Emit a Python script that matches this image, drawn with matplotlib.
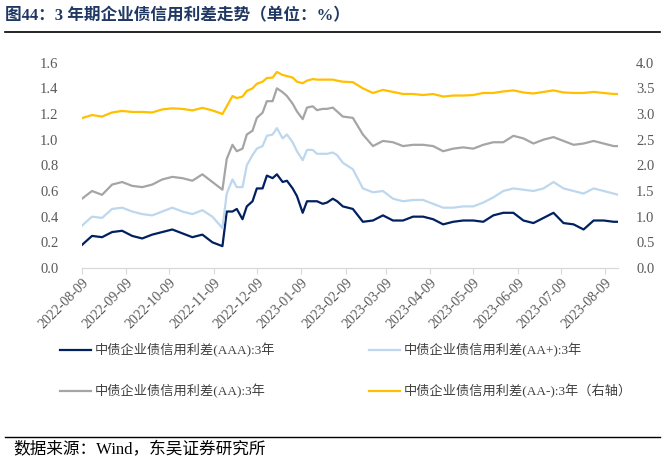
import matplotlib
matplotlib.use("Agg")
import matplotlib.pyplot as plt
import matplotlib.dates as mdates
import pandas as pd

plt.rcParams["font.family"] = ["Liberation Serif", "Noto Sans CJK SC", "DejaVu Sans"]

DATES = [
    "2022-08-09", "2022-08-16", "2022-08-23", "2022-08-30", "2022-09-06", "2022-09-13",
    "2022-09-20", "2022-09-27", "2022-10-04", "2022-10-11", "2022-10-18", "2022-10-25",
    "2022-11-01", "2022-11-08",
    "2022-11-15", "2022-11-18", "2022-11-22", "2022-11-25", "2022-11-29", "2022-12-02",
    "2022-12-06", "2022-12-09", "2022-12-13", "2022-12-16", "2022-12-20", "2022-12-23",
    "2022-12-27", "2022-12-30", "2023-01-03", "2023-01-06", "2023-01-10", "2023-01-13",
    "2023-01-17", "2023-01-20", "2023-01-24", "2023-01-27", "2023-01-31", "2023-02-03",
    "2023-02-07",
    "2023-02-14", "2023-02-21", "2023-02-28", "2023-03-07", "2023-03-14", "2023-03-21",
    "2023-03-28", "2023-04-04", "2023-04-11", "2023-04-18", "2023-04-25", "2023-05-02",
    "2023-05-09", "2023-05-16",
    "2023-05-23", "2023-05-30", "2023-06-06", "2023-06-13", "2023-06-20", "2023-06-27",
    "2023-07-04", "2023-07-11", "2023-07-18", "2023-07-25", "2023-08-01", "2023-08-08",
    "2023-08-15", "2023-08-18",
]

AAA = [
    0.18, 0.25, 0.24, 0.28, 0.29, 0.25, 0.23, 0.26, 0.28, 0.30, 0.27, 0.24, 0.26, 0.20,
    0.17, 0.44, 0.44, 0.46, 0.38, 0.48, 0.52, 0.62, 0.62, 0.72, 0.70, 0.73, 0.67, 0.68,
    0.62, 0.56, 0.43, 0.52, 0.52, 0.52, 0.50, 0.51, 0.54, 0.52, 0.48,
    0.46, 0.36, 0.37, 0.41, 0.37, 0.37, 0.40, 0.40, 0.38, 0.34, 0.36, 0.37, 0.37, 0.36,
    0.41, 0.43, 0.43, 0.37, 0.35, 0.39, 0.43, 0.35, 0.34, 0.30, 0.37, 0.37, 0.36, 0.36,
]

AA_PLUS = [
    0.33, 0.40, 0.39, 0.46, 0.47, 0.44, 0.42, 0.41, 0.44, 0.47, 0.44, 0.42, 0.45, 0.40,
    0.31, 0.58, 0.69, 0.63, 0.63, 0.80, 0.88, 0.93, 0.95, 1.03, 1.04, 1.09, 1.01, 1.04,
    0.98, 0.91, 0.84, 0.92, 0.92, 0.89, 0.89, 0.89, 0.90, 0.88, 0.82,
    0.77, 0.62, 0.59, 0.60, 0.54, 0.52, 0.53, 0.53, 0.50, 0.47, 0.47, 0.48, 0.48, 0.51,
    0.55, 0.60, 0.62, 0.61, 0.60, 0.62, 0.67, 0.62, 0.60, 0.58, 0.62, 0.60, 0.58, 0.57,
]

AA = [
    0.54, 0.60, 0.57, 0.65, 0.67, 0.64, 0.63, 0.65, 0.69, 0.71, 0.70, 0.68, 0.73, 0.67,
    0.61, 0.85, 0.96, 0.91, 0.93, 1.04, 1.07, 1.17, 1.21, 1.30, 1.30, 1.40, 1.37, 1.34,
    1.28, 1.22, 1.16, 1.25, 1.26, 1.23, 1.24, 1.24, 1.25, 1.22, 1.18,
    1.17, 1.04, 0.95, 0.99, 0.98, 0.95, 0.96, 0.96, 0.95, 0.91, 0.93, 0.94, 0.93, 0.96,
    0.98, 0.98, 1.03, 1.01, 0.97, 1.00, 1.02, 0.99, 0.96, 0.97, 0.99, 0.97, 0.95, 0.95,
]

AA_MINUS = [
    2.92, 2.98, 2.95, 3.03, 3.06, 3.04, 3.04, 3.03, 3.09, 3.11, 3.10, 3.07, 3.12, 3.07,
    3.00, 3.15, 3.35, 3.31, 3.34, 3.45, 3.50, 3.59, 3.63, 3.70, 3.71, 3.82, 3.76, 3.74,
    3.71, 3.63, 3.60, 3.65, 3.68, 3.67, 3.67, 3.67, 3.67, 3.65, 3.63,
    3.62, 3.50, 3.41, 3.47, 3.43, 3.39, 3.39, 3.37, 3.39, 3.34, 3.36, 3.36, 3.37, 3.41,
    3.41, 3.44, 3.46, 3.42, 3.40, 3.43, 3.46, 3.42, 3.41, 3.41, 3.43, 3.41, 3.39, 3.39,
]

LABELS = [
    "中债企业债信用利差(AAA):3年",
    "中债企业债信用利差(AA+):3年",
    "中债企业债信用利差(AA):3年",
    "中债企业债信用利差(AA-):3年（右轴）",
]
COLORS = ["#002060", "#BDD7EE", "#A5A5A5", "#FFC000"]

TICK_COLOR = "#595959"

dates = pd.to_datetime(DATES)

fig = plt.figure(figsize=(6.65, 4.65), dpi=100)
ax = fig.add_axes([0.1233, 0.4237, 0.8060, 0.4415])
ax2 = ax.twinx()

l1, = ax.plot(dates, AAA, color=COLORS[0], lw=1.6)
l2, = ax.plot(dates, AA_PLUS, color=COLORS[1], lw=1.6)
l3, = ax.plot(dates, AA, color=COLORS[2], lw=1.6)
l4, = ax2.plot(dates, AA_MINUS, color=COLORS[3], lw=1.6)

ax.set_xlim(dates[0], dates[-1])
ax.set_ylim(0, 1.6)
ax2.set_ylim(0, 4.0)
ax.set_yticks([0.0, 0.2, 0.4, 0.6, 0.8, 1.0, 1.2, 1.4, 1.6])
ax2.set_yticks([0.0, 0.5, 1.0, 1.5, 2.0, 2.5, 3.0, 3.5, 4.0])
ax.yaxis.set_major_formatter(plt.FormatStrFormatter("%.1f"))
ax2.yaxis.set_major_formatter(plt.FormatStrFormatter("%.1f"))

for a in (ax, ax2):
    for side in ("top", "left", "right"):
        a.spines[side].set_visible(False)
    a.spines["bottom"].set_color("#D9D9D9")
    a.tick_params(axis="y", length=0, labelsize=10.5, labelcolor=TICK_COLOR)
ax.tick_params(axis="y", pad=17)
ax2.tick_params(axis="y", pad=13)

ax.xaxis.set_major_locator(mdates.MonthLocator(bymonthday=9))
ax.xaxis.set_major_formatter(mdates.DateFormatter("%Y-%m-%d"))
ax.tick_params(axis="x", direction="out", length=4, color="#D9D9D9",
               labelsize=10, labelcolor=TICK_COLOR, pad=2)
for lab in ax.get_xticklabels():
    lab.set_rotation(45)
    lab.set_ha("right")
    lab.set_rotation_mode("anchor")

fig.legend([l1, l3, l2, l4], [LABELS[0], LABELS[2], LABELS[1], LABELS[3]],
           ncol=2, loc="upper left", bbox_to_anchor=(0.0902, 0.2624),
           frameon=False, fontsize=9.5, handlelength=2.35, handletextpad=0.3,
           columnspacing=7.1, labelspacing=2.05, borderpad=0, borderaxespad=0,
           labelcolor="#404040")

# title and source
fig.text(0.008, 0.965, "图44：3 年期企业债信用利差走势（单位：%）", fontsize=12,
         fontweight="bold", color="#1F3864", va="center", ha="left")
fig.add_artist(plt.Line2D([0.008, 0.992], [0.931, 0.931], color="black", lw=1.2))
fig.add_artist(plt.Line2D([0.008, 0.992], [0.060, 0.060], color="black", lw=1.0))
fig.text(0.020, 0.031, "数据来源：Wind，东吴证券研究所", fontsize=12,
         color="black", va="center", ha="left")

fig.savefig("out.png", dpi=100)
